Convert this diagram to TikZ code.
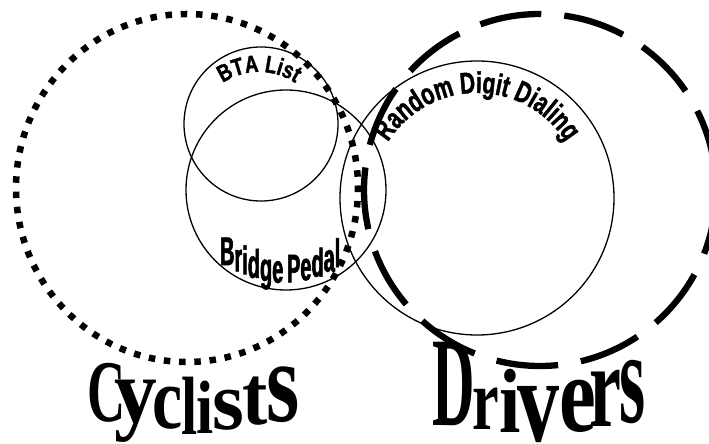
\documentclass[tikz,border=0pt]{standalone}
\usepackage{fontspec}
\usetikzlibrary{decorations.text}
\newfontfamily\btafont[FakeStretch=0.78, FakeBold=1.5, UprightFont=* Bold]{Liberation Sans}
\newfontfamily\rddfont[FakeStretch=0.70, FakeBold=1.5, UprightFont=* Bold]{Liberation Sans}
\newfontfamily\bpfont[FakeStretch=0.5, FakeBold=1.5, UprightFont=* Bold]{Liberation Sans}
\newfontfamily\bigserif[UprightFont=* Bold]{Liberation Serif}
\newcommand{\cyl}[3]{\scalebox{#1}[#2]{\bigserif\fontsize{88}{88}\selectfont #3}}
\newcommand{\drl}[3]{\scalebox{#1}[#2]{\bigserif\fontsize{120}{120}\selectfont #3}}
\newcommand{\bpl}[1]{\bpfont\fontsize{40}{40}\selectfont #1}
\begin{document}
\begin{tikzpicture}[x=1pt,y=1pt,
  thincircle/.style={line width=1.3pt},
  dotcircle/.style={line width=6.5pt, dash pattern=on 6.5pt off 8.765pt, dash phase=4pt},
  dashcircle/.style={line width=6.3pt, dash pattern=on 62pt off 23.06pt, dash phase=65pt},
  letter/.style={anchor=base west, inner sep=0pt, outer sep=0pt}
]
\useasboundingbox (0,0) rectangle (709,444);
% centres
\coordinate (cyc) at (187,256);
\coordinate (drv) at (540,254);
\coordinate (bta) at (261,320);
\coordinate (bp)  at (286,254);
\coordinate (rdd) at (477,246);
% circles
\draw[dotcircle] (cyc) ellipse[x radius=171, y radius=174];
\draw[dashcircle] (drv) circle[radius=176];
\draw[thincircle] (bta) circle[radius=77];
\draw[thincircle] (bp) circle[radius=100];
\draw[thincircle] (rdd) circle[radius=137];
% curved labels
\coordinate (btaarc) at (259,307);
\path[decorate, decoration={text along path, text align=center,
  text={|\btafont\fontsize{24}{24}\selectfont|BTA List}}]
  (btaarc) ++(150:65) arc[start angle=150, end angle=30, radius=65];
\path[decorate, decoration={text along path, text align=center,
  text={|\rddfont\fontsize{30}{30}\selectfont|Random Digit Dialing}}]
  (rdd) ++(170:105) arc[start angle=170, end angle=10, radius=105];
% Bridge Pedal (upright letters on a sagging baseline)
\node[letter] (bp1)  at (220,178.9) {\bpl{B}};
\node[letter] (bp2)  at (234.4,172.7) {\bpl{r}};
\node[letter] (bp3)  at (242.2,169.6) {\bpl{i}};
\node[letter] (bp4)  at (247.8,166.2) {\bpl{d}};
\node[letter] (bp5)  at (260.0,162.9) {\bpl{g}};
\node[letter] (bp6)  at (272.2,161.3) {\bpl{e}};
\node[letter] (bp7)  at (287.0,161.6) {\bpl{P}};
\node[letter] (bp8)  at (300.3,163.8) {\bpl{e}};
\node[letter] (bp9)  at (311.5,167.4) {\bpl{d}};
\node[letter] (bp10) at (323.7,172.4) {\bpl{a}};
\node[letter] (bp11) at (334.8,176.9) {\bpl{l}};
% Cyclists
\node[letter] (cy1) at (87,22) {\cyl{0.60}{1.0}{C}};
\node[letter] (cy2) at (114,21) {\cyl{0.97}{1.05}{y}};
\node[letter] (cy3) at (152,15) {\cyl{0.77}{1.0}{c}};
\node[letter] (cy4) at (181,9) {\cyl{0.66}{0.94}{l}};
\node[letter] (cy5) at (196,10) {\cyl{0.70}{0.86}{i}};
\node[letter] (cy6) at (212,14) {\cyl{0.93}{0.95}{s}};
\node[letter] (cy7) at (242,19) {\cyl{0.86}{0.96}{t}};
\node[letter] (cy8) at (266,22) {\cyl{0.97}{1.32}{s}};
% Drivers
\node[letter] (dr1) at (432,18) {\drl{0.49}{1.06}{D}};
\node[letter] (dr2) at (472,14) {\drl{0.50}{0.73}{r}};
\node[letter] (dr3) at (499,11) {\drl{0.64}{0.76}{i}};
\node[letter] (dr4) at (517,2) {\drl{0.70}{1.0}{v}};
\node[letter] (dr5) at (559,12) {\drl{0.69}{0.91}{e}};
\node[letter] (dr6) at (589,17) {\drl{0.60}{0.99}{r}};
\node[letter] (dr7) at (619,21) {\drl{0.56}{1.10}{s}};
\end{tikzpicture}
\end{document}
